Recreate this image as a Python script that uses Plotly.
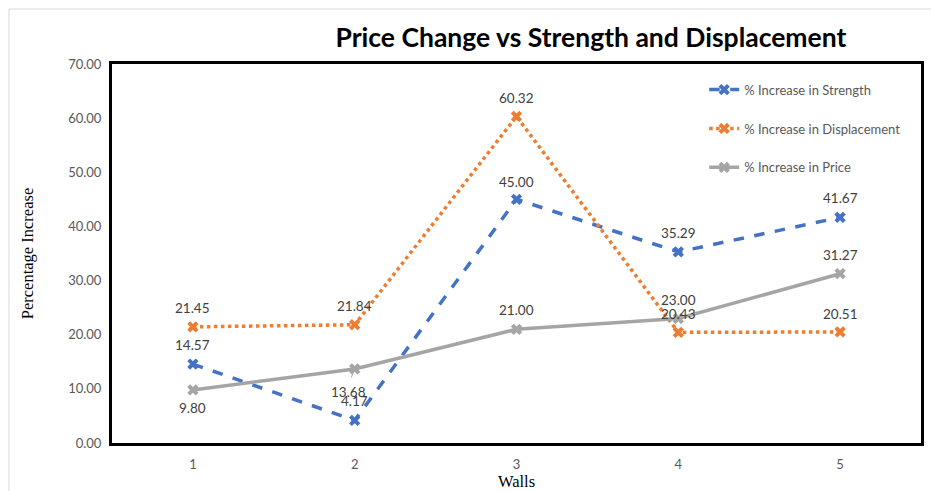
import plotly.graph_objects as go

walls = ["1", "2", "3", "4", "5"]
strength = [14.57, 4.17, 45.00, 35.29, 41.67]
displacement = [21.45, 21.84, 60.32, 20.43, 20.51]
price = [9.80, 13.68, 21.00, 23.00, 31.27]
y_ticks = [0, 10, 20, 30, 40, 50, 60, 70]

BLUE = "#4472C4"
ORANGE = "#ED7D31"
GRAY = "#A5A5A5"
LABEL_FONT = dict(family="Lato, Open Sans, sans-serif", size=13.5, color="#404040")

fig = go.Figure()

series = [
    ("% Increase in Strength", strength, BLUE, "dash"),
    ("% Increase in Displacement", displacement, ORANGE, "dot"),
    ("% Increase in Price", price, GRAY, "solid"),
]
for i, (name, vals, color, dash) in enumerate(series):
    fig.add_trace(go.Scatter(
        x=walls, y=vals, name=name, mode="lines+markers",
        line=dict(color=color, width=3.5, dash=dash),
        marker=dict(symbol="x", size=10, color=color),
        legendgroup=f"g{i}",
    ))

# value labels: (series values, per-point vertical offsets in px, per-point x offsets)
label_specs = [
    (strength, [19, 19, 17, 19, 19], [0, 0, 0, 0, 0]),
    (displacement, [19, 19, 18, 18, 18], [0, 0, 0, 0, 0]),
    (price, [-18, -23, 19, 18, 19], [0, -6, 0, 0, 0]),
]
annotations = []
for vals, dys, dxs in label_specs:
    for idx, (v, dy, dx) in enumerate(zip(vals, dys, dxs)):
        annotations.append(dict(
            x=idx, y=v, xref="x", yref="y", text=f"{v:.2f}",
            showarrow=False, yshift=dy, xshift=dx, font=LABEL_FONT,
        ))

# leader line for the offset label on wall 2 price
annotations.append(dict(
    x=1, y=price[1], xref="x", yref="y", text="",
    showarrow=True, arrowhead=0, arrowwidth=1, arrowcolor="#A5A5A5",
    ax=-4, ay=10, standoff=3,
))

fig.update_layout(
    width=931, height=491,
    margin=dict(l=112, r=10, t=64, b=48),
    paper_bgcolor="white", plot_bgcolor="white",
    title=dict(
        text="<b>Price Change vs Strength and Displacement</b>",
        font=dict(family="Lato, Open Sans, sans-serif", size=26.5, color="black"),
        x=0.592, xref="paper", xanchor="center",
        y=1 - 38 / 491, yref="container", yanchor="middle",
    ),
    xaxis=dict(
        type="category", range=[-0.5, 4.5], automargin=False,
        showline=True, linecolor="black", linewidth=3, mirror=True,
        showgrid=False, ticks="", zeroline=False, ticklabelstandoff=7,
        tickfont=dict(family="Lato, Open Sans, sans-serif", size=13, color="#595959"),
        title=dict(text="Walls", font=dict(family="Liberation Serif, Times New Roman, serif",
                                            size=16.5, color="black"), standoff=12),
    ),
    yaxis=dict(
        range=[0, 70], tickvals=y_ticks, tickformat=".2f", automargin=False,
        showline=True, linecolor="black", linewidth=3, mirror=True,
        showgrid=False, ticks="", zeroline=False, ticklabelstandoff=5,
        tickfont=dict(family="Lato, Open Sans, sans-serif", size=13, color="#595959"),
        title=dict(text="Percentage Increase",
                   font=dict(family="Liberation Serif, Times New Roman, serif",
                             size=16.5, color="black"), standoff=31),
    ),
    legend=dict(
        x=0.732, y=0.972, xanchor="left", yanchor="top",
        traceorder="grouped", tracegroupgap=19,
        font=dict(family="Lato, Open Sans, sans-serif", size=13, color="#595959"),
        bgcolor="rgba(0,0,0,0)",
    ),
    annotations=annotations,
    shapes=[dict(
        type="rect", xref="paper", yref="paper",
        x0=(9 - 112) / 809, x1=1.2, y0=-0.3, y1=(443 - 9) / 379,
        line=dict(color="#D9D9D9", width=1), layer="below",
    )],
)

fig.write_html("out.html")
